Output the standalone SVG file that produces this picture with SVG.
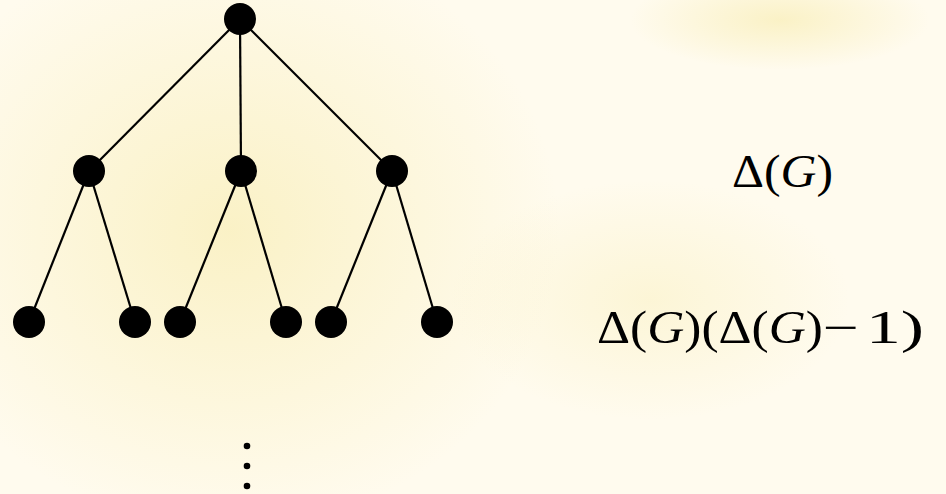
<svg xmlns="http://www.w3.org/2000/svg" width="946" height="494" viewBox="0 0 946 494">
<style>
.edge{stroke:#000;stroke-width:2.2;fill:none}
.node{fill:#000}
.dot{fill:#000}
.math{font-family:"Liberation Serif","Times New Roman",serif;font-size:46px;fill:#000}
.it{font-style:italic}
</style>
<defs>
<radialGradient id="tex1" cx="0.5" cy="0.5" r="0.5">
<stop offset="0" stop-color="#f3e38a" stop-opacity="0.4"/>
<stop offset="1" stop-color="#f3e38a" stop-opacity="0"/>
</radialGradient>
</defs>
<rect width="946" height="494" fill="#fffbee"/>
<ellipse cx="230" cy="230" rx="330" ry="300" fill="url(#tex1)"/>
<ellipse cx="780" cy="20" rx="150" ry="50" fill="url(#tex1)"/>
<ellipse cx="650" cy="300" rx="200" ry="120" fill="url(#tex1)" opacity="0.6"/>
<g id="connectors">
<line class="edge" x1="240" y1="19" x2="89" y2="171"/>
<line class="edge" x1="240" y1="19" x2="241" y2="171"/>
<line class="edge" x1="240" y1="19" x2="392" y2="171"/>
<line class="edge" x1="89" y1="171" x2="29" y2="322"/>
<line class="edge" x1="89" y1="171" x2="135" y2="322"/>
<line class="edge" x1="241" y1="171" x2="180" y2="322"/>
<line class="edge" x1="241" y1="171" x2="286" y2="322"/>
<line class="edge" x1="392" y1="171" x2="331" y2="322"/>
<line class="edge" x1="392" y1="171" x2="437" y2="322"/>
</g>
<g id="root"><circle class="node" cx="240" cy="19" r="16"/></g>
<g id="n1"><circle class="node" cx="89" cy="171" r="16"/></g>
<g id="n2"><circle class="node" cx="241" cy="171" r="16"/></g>
<g id="n3"><circle class="node" cx="392" cy="171" r="16"/></g>
<g id="l1"><circle class="node" cx="29" cy="322" r="16"/></g>
<g id="l2"><circle class="node" cx="135" cy="322" r="16"/></g>
<g id="l3"><circle class="node" cx="180" cy="322" r="16"/></g>
<g id="l4"><circle class="node" cx="286" cy="322" r="16"/></g>
<g id="l5"><circle class="node" cx="331" cy="322" r="16"/></g>
<g id="l6"><circle class="node" cx="437" cy="322" r="16"/></g>
<g id="vdots">
<circle class="dot" cx="247" cy="446" r="3.3"/>
<circle class="dot" cx="247" cy="466" r="3.3"/>
<circle class="dot" cx="247" cy="486" r="3.3"/>
</g>
<g id="label1">
<text class="math" x="732" y="187" textLength="101" lengthAdjust="spacingAndGlyphs">Δ(<tspan class="it">G</tspan>)</text>
</g>
<g id="label2">
<text class="math" x="597" y="343" textLength="226" lengthAdjust="spacingAndGlyphs">Δ(<tspan class="it">G</tspan>)(Δ(<tspan class="it">G</tspan>)</text>
<text class="math" x="823" y="343" textLength="36" lengthAdjust="spacingAndGlyphs">−</text>
<text class="math" x="866" y="343" textLength="58" lengthAdjust="spacingAndGlyphs">1)</text>
</g>
</svg>
